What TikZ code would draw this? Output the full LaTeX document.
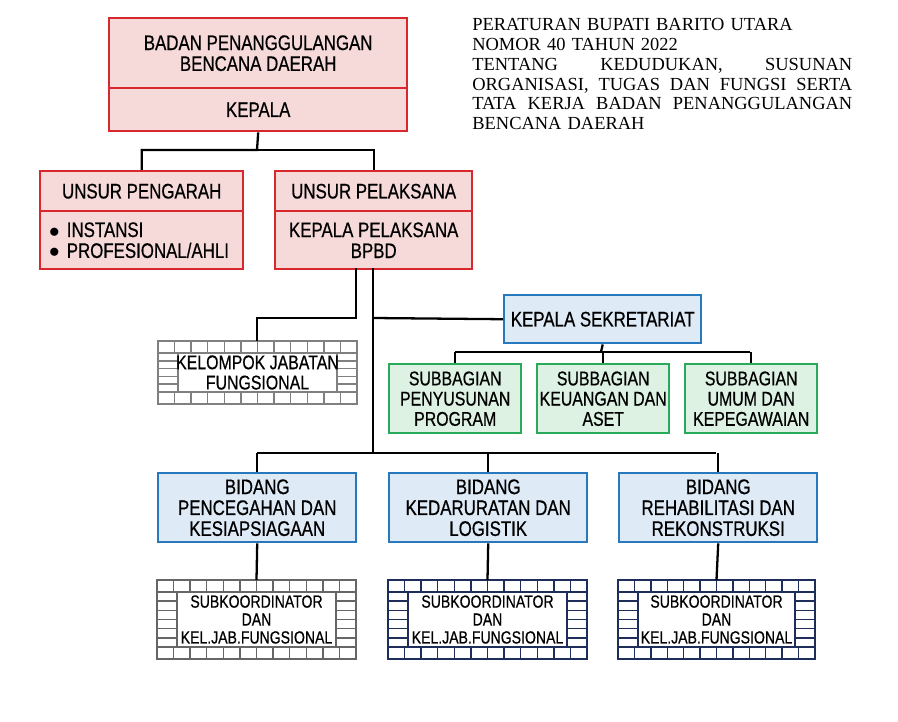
\documentclass[tikz,border=0pt]{standalone}
\usepackage{fontspec}
\setmainfont{Liberation Serif}
\setsansfont{Liberation Sans}[FakeStretch=0.8,FakeBold=0.6]
\definecolor{redline}{RGB}{215,40,45}
\definecolor{redfill}{RGB}{246,218,218}
\definecolor{blueline}{RGB}{40,120,190}
\definecolor{bluefill}{RGB}{222,234,246}
\definecolor{greenline}{RGB}{40,170,90}
\definecolor{greenfill}{RGB}{222,242,228}
\definecolor{navy}{RGB}{30,45,90}
\tikzset{
  box/.style={draw,line width=1.4pt,minimum width=#1,inner sep=0pt,align=center,font=\sffamily\large\linespread{0.85}\selectfont},
  redbox/.style={box=#1,draw=redline,fill=redfill},
  bluebox/.style={box=#1,draw=blueline,fill=bluefill},
  greenbox/.style={box=#1,draw=greenline,fill=greenfill,font=\sffamily\fontsize{11.3}{11.5}\selectfont},
  conn/.style={line width=1.3pt}
}
% brick framed box: x1,y1,x2,y2,colour
\newcommand{\brickbox}[5]{%
  \draw[#5,line width=1pt] (#1,#2) rectangle (#3,#4);
  \draw[#5,line width=0.8pt] (#1+20,#2+12) rectangle (#3-20,#4-12);
  \draw[#5,line width=0.8pt] (#1,#2+12) -- (#3,#2+12) (#1,#4-12) -- (#3,#4-12);
  \foreach \i in {1,...,11} {
    \draw[#5,line width=0.8pt] ({#1+\i*(#3-#1)/12},#2) -- ++(0,12);
    \draw[#5,line width=0.8pt] ({#1+\i*(#3-#1)/12},#4) -- ++(0,-12);
  }
  \pgfmathsetmacro{\rows}{int(round((#4-#2-24)/11))}
  \foreach \j in {1,...,\rows} {
    \draw[#5,line width=0.8pt] (#1,{#2+12+\j*(#4-#2-24)/(\rows+1)}) -- ++(20,0);
    \draw[#5,line width=0.8pt] (#3,{#2+12+\j*(#4-#2-24)/(\rows+1)}) -- ++(-20,0);
  }
}
\begin{document}
\begin{tikzpicture}[x=0.02cm,y=-0.02cm]
\useasboundingbox (0,0) rectangle (898,722);

% kepala
\node[redbox=5.96cm,minimum height=1.4cm,anchor=north west] (badan) at (108,17) {BADAN PENANGGULANGAN\\BENCANA DAERAH};
\node[redbox=5.96cm,minimum height=0.86cm,anchor=north west] (kepala) at (108,87) {KEPALA};

% unsur
\node[redbox=4.06cm,minimum height=0.8cm,anchor=north west] (pengarah) at (39,170) {UNSUR PENGARAH};
\node[redbox=4.06cm,minimum height=1.16cm,anchor=north west,align=left,text width=3.7cm] (ahli) at (39,210) {$\bullet$ INSTANSI\\$\bullet$ PROFESIONAL/AHLI};
\node[redbox=3.94cm,minimum height=0.8cm,anchor=north west] (pelaksana) at (274,170) {UNSUR PELAKSANA};
\node[redbox=3.94cm,minimum height=1.16cm,anchor=north west] (kalak) at (274,210) {KEPALA PELAKSANA\\BPBD};

% sekretariat
\node[bluebox=3.94cm,minimum height=0.96cm,anchor=north west] (sekre) at (503,294) {KEPALA SEKRETARIAT};
\foreach \x/\n/\t in {388/prog/{SUBBAGIAN\\PENYUSUNAN\\PROGRAM},536/uang/{SUBBAGIAN\\KEUANGAN DAN\\ASET},684/umum/{SUBBAGIAN\\UMUM DAN\\KEPEGAWAIAN}}
  \node[greenbox=2.64cm,minimum height=1.38cm,anchor=north west] (\n) at (\x,363) {\t};

% bidang
\foreach \x/\n/\t in {157/cegah/{BIDANG\\PENCEGAHAN DAN\\KESIAPSIAGAAN},388/darurat/{BIDANG\\KEDARURATAN DAN\\LOGISTIK},618/rehab/{BIDANG\\REHABILITASI DAN\\REKONSTRUKSI}}
  \node[bluebox=3.96cm,minimum height=1.38cm,anchor=north west] (\n) at (\x,472) {\t};

% brick boxes
\brickbox{158}{341}{357}{404}{gray}
\node[font=\sffamily\fontsize{11.3}{11.5}\selectfont,align=center] (jafung) at (257.5,372.5) {KELOMPOK JABATAN\\FUNGSIONAL};
\brickbox{157}{580}{356}{659}{gray!80!black}
\brickbox{388}{580}{587}{659}{navy}
\brickbox{618}{580}{815}{659}{navy}
\foreach \x/\n in {256.5/subA,487.5/subB,716.5/subC}
  \node[font=\sffamily\linespread{0.85}\selectfont,align=center] (\n) at (\x,619.5) {SUBKOORDINATOR\\DAN\\KEL.JAB.FUNGSIONAL};

% garis
\draw[conn] (kepala.south) -- (257,150) -| (pengarah.north);
\draw[conn] (257,150) -| (pelaksana.north);
\draw[conn] (356,268) |- (257,318) -- (257,341);
\draw[conn] (373,268) -- (373,453);
\draw[conn] (373,318) -- (sekre.west);
\draw[conn] (sekre.south) -- (601,352);
\draw[conn] (455,352) -- (750,352);
\foreach \n in {prog,uang,umum} \draw[conn] (\n.north |- 0,352) -- (\n.north);
\draw[conn] (257,453) -- (716,453);
\foreach \n in {cegah,darurat,rehab} \draw[conn] (\n.north |- 0,453) -- (\n.north);
\draw[conn] (cegah.south) -- (subA.center |- 0,580);
\draw[conn] (darurat.south) -- (subB.center |- 0,580);
\draw[conn] (rehab.south) -- (subC.center |- 0,580);

% judul
\node[anchor=north west,inner sep=0pt,font=\rmfamily\fontsize{10.5}{11.3}\selectfont,text width=7.6cm,align=left] (perbup) at (472,18) {PERATURAN BUPATI BARITO UTARA\\NOMOR 40 TAHUN 2022\\TENTANG\hfill KEDUDUKAN,\hfill SUSUNAN\\ORGANISASI,\hfill TUGAS\hfill DAN\hfill FUNGSI\hfill SERTA\\TATA\hfill KERJA\hfill BADAN\hfill PENANGGULANGAN\\BENCANA DAERAH};
\end{tikzpicture}
\end{document}
